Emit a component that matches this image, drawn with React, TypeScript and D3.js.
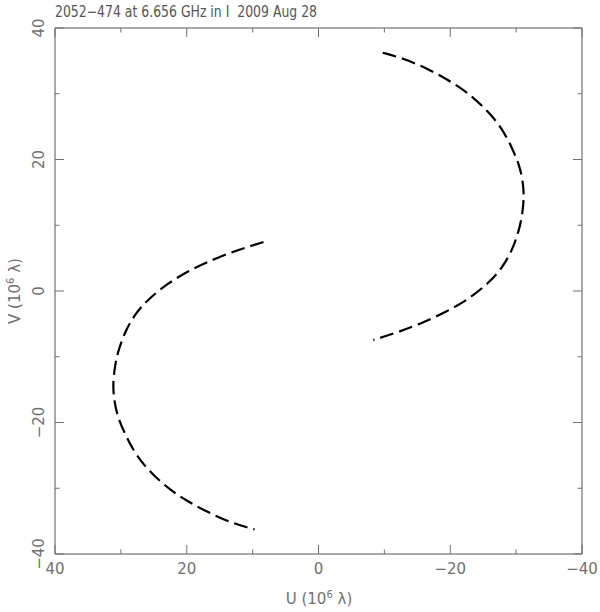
import React from "react";
import * as d3 from "d3";

const title = "2052\u2212474 at 6.656 GHz in I  2009 Aug 28";
const xTicksMajor = [40, 20, 0, -20, -40];
const xTicksMinor = [30, 10, -10, -30];
const yTicksMajor = [40, 20, 0, -20, -40];
const yTicksMinor = [30, 10, -10, -30];
const tickLabels = ["40", "20", "0", "\u221220", "\u221240"];

// Upper-right track (u, v) in 10^6 lambda
const uTrackA = [-9.75, -12.87, -16.42, -19.7, -22.5, -25.28, -27.55, -29.33, -30.59, -31.05, -31.2, -31.0, -30.48, -29.33, -27.81, -26.03, -23.0, -19.46, -15.41, -11.87, -8.32];
const vTrackA = [36.24, 35.39, 33.87, 32.09, 30.31, 27.79, 25.25, 21.95, 18.9, 16.4, 14.4, 12.0, 9.28, 5.98, 3.45, 1.41, -1.11, -3.15, -5.02, -6.34, -7.45];
// Lower-left track (conjugate points)
const uTrackB = [8.35, 11.9, 15.45, 19.5, 23.0, 26.0, 27.8, 29.3, 30.5, 31.0, 31.2, 31.05, 30.6, 29.3, 27.55, 25.3, 22.5, 19.7, 16.4, 12.9, 9.7];
const vTrackB = [7.45, 6.35, 5.05, 3.2, 1.1, -1.4, -3.45, -6.0, -9.3, -12.0, -14.4, -16.4, -18.9, -21.95, -25.25, -27.8, -30.3, -32.1, -33.85, -35.4, -36.25];

export default function App() {
  const left = 55, right = 582, top = 28, bottom = 554;
  const x = d3.scaleLinear().domain([40, -40]).range([left, right]);
  const y = d3.scaleLinear().domain([40, -40]).range([top, bottom]);
  const line = d3
    .line<[number, number]>()
    .x((d) => x(d[0]))
    .y((d) => y(d[1]))
    .curve(d3.curveBasis);
  const trackA = uTrackA.map((u, i) => [u, vTrackA[i]] as [number, number]);
  const trackB = uTrackB.map((u, i) => [u, vTrackB[i]] as [number, number]);
  const major = 9, minor = 4.5;
  const font = "'DejaVu Sans', sans-serif";
  const tc = "#707070";
  const ticks: JSX.Element[] = [];
  xTicksMajor.forEach((t, i) => {
    ticks.push(<line key={"xb" + i} x1={x(t)} x2={x(t)} y1={bottom} y2={bottom - major} stroke={tc} />);
    ticks.push(<line key={"xt" + i} x1={x(t)} x2={x(t)} y1={top} y2={top + major} stroke={tc} />);
  });
  xTicksMinor.forEach((t, i) => {
    ticks.push(<line key={"xbm" + i} x1={x(t)} x2={x(t)} y1={bottom} y2={bottom - minor} stroke={tc} />);
    ticks.push(<line key={"xtm" + i} x1={x(t)} x2={x(t)} y1={top} y2={top + minor} stroke={tc} />);
  });
  yTicksMajor.forEach((t, i) => {
    ticks.push(<line key={"yl" + i} y1={y(t)} y2={y(t)} x1={left} x2={left + major} stroke={tc} />);
    ticks.push(<line key={"yr" + i} y1={y(t)} y2={y(t)} x1={right} x2={right - major} stroke={tc} />);
  });
  yTicksMinor.forEach((t, i) => {
    ticks.push(<line key={"ylm" + i} y1={y(t)} y2={y(t)} x1={left} x2={left + minor} stroke={tc} />);
    ticks.push(<line key={"yrm" + i} y1={y(t)} y2={y(t)} x1={right} x2={right - minor} stroke={tc} />);
  });
  return (
    <svg width={600} height={612} style={{ position: "absolute", left: 0, top: 0, background: "#fff" }}>
      <text x={left} y={17} fontFamily={font} fontSize={15} fill="#555" textLength={262} lengthAdjust="spacingAndGlyphs" style={{ whiteSpace: "pre" }}>
        {title}
      </text>
      {/* frame */}
      <line x1={left} x2={right} y1={top} y2={top} stroke="#555" />
      <line x1={left} x2={right} y1={bottom} y2={bottom} stroke="#555" />
      <line x1={left} x2={left} y1={top} y2={bottom} stroke="#aaa" strokeWidth={2} />
      <line x1={right} x2={right} y1={top} y2={bottom} stroke="#aaa" strokeWidth={2} />
      {ticks}
      {xTicksMajor.map((t, i) => (
        <text key={"xl" + i} x={x(t)} y={574} textAnchor="middle" fontFamily={font} fontSize={15} fill={tc}>
          {tickLabels[i]}
        </text>
      ))}
      {yTicksMajor.map((t, i) => (
        <text key={"yl" + i} transform={`translate(44,${y(t)}) rotate(-90)`} textAnchor="middle" fontFamily={font} fontSize={15} fill={tc}>
          {tickLabels[i]}
        </text>
      ))}
      <text x={319} y={604} textAnchor="middle" fontFamily={font} fontSize={15} fill={tc}>
        U (10<tspan dy={-6} fontSize={10}>6</tspan><tspan dy={6}> λ)</tspan>
      </text>
      <text transform={`translate(20,${y(0)}) rotate(-90)`} textAnchor="middle" fontFamily={font} fontSize={15} fill={tc}>
        V (10<tspan dy={-6} fontSize={10}>6</tspan><tspan dy={6}> λ)</tspan>
      </text>
      <path d={line(trackA) || ""} fill="none" stroke="#000" strokeWidth={2.2} strokeDasharray="14,6" />
      <path d={line(trackB) || ""} fill="none" stroke="#000" strokeWidth={2.2} strokeDasharray="14,6" />
    </svg>
  );
}
